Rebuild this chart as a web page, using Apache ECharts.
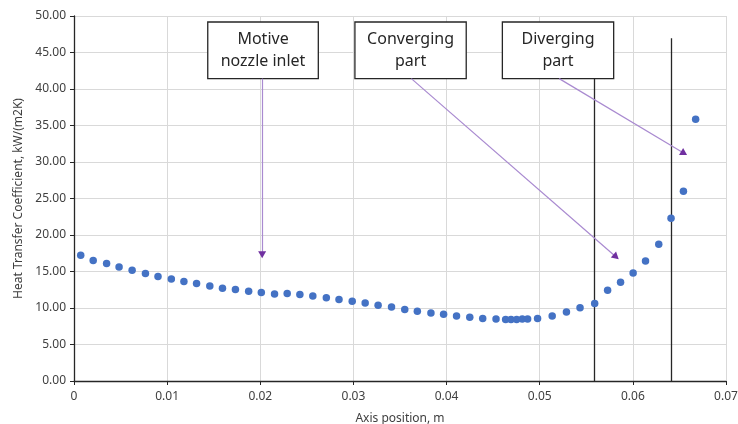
<!DOCTYPE html>
<html>
<head>
<meta charset="utf-8">
<script src="https://cdn.jsdelivr.net/npm/echarts@6/dist/echarts.min.js"></script>
<style>html,body{margin:0;padding:0;background:#fff;}#c{width:738px;height:424px;}</style>
</head>
<body>
<div id="c"></div>
<script>
// Axis position (m)
const xs = [0.00072,0.00206,0.0035,0.00484,0.00624,0.00767,0.00902,0.01045,0.0118,0.01316,
  0.01458,0.01594,0.01733,0.01875,0.02011,0.02153,0.02289,0.02425,0.02564,0.02709,
  0.02845,0.02987,0.03126,0.03265,0.03409,0.03551,0.03686,0.03832,0.03968,0.04107,
  0.04249,0.04388,0.04531,0.04634,0.04692,0.04752,0.04813,0.0487,0.04977,0.05134,
  0.05287,0.05433,0.0559,0.05729,0.05868,0.06003,0.06136,0.06278,0.0641,0.06543,0.06674];
// Heat transfer coefficient kW/(m2K)
const hs = [17.22,16.5,16.08,15.62,15.16,14.71,14.3,13.97,13.62,13.34,
  13.01,12.7,12.52,12.29,12.11,11.92,11.97,11.84,11.64,11.42,
  11.15,10.92,10.68,10.37,10.14,9.78,9.55,9.32,9.14,8.9,
  8.73,8.55,8.49,8.41,8.41,8.41,8.49,8.49,8.55,8.9,
  9.45,10.05,10.6,12.42,13.52,14.79,16.44,18.73,22.29,25.99,35.85];

const boxLabels = ['Motive\nnozzle inlet', 'Converging\npart', 'Diverging\npart'];
const boxX = [[0.01436,0.02623],[0.03016,0.04211],[0.04599,0.05794]];
const boxY = [41.42, 49.18];
const arrowFrom = [[0.0202,41.42],[0.03622,41.42],[0.05209,41.42]];
const arrowTo = [[0.0202,17.3],[0.0582,17.0],[0.0655,31.2]];
const sectionX = [0.0559, 0.06417];
const sectionTop = [41.42, 46.95];

const FONT = 'Noto Sans';
const chart = echarts.init(document.getElementById('c'));
const pts = xs.map((x,i)=>[x,hs[i]]);

// short dark segment just before each arrow tip, to carry a dark arrowhead
const PXX = 9330, PXY = 7.3;
const headStart = arrowFrom.map((f,i)=>{
  const t = arrowTo[i];
  const dx = (t[0]-f[0])*PXX, dy = (t[1]-f[1])*PXY;
  const L = Math.hypot(dx,dy);
  return [t[0]-dx/L*3/PXX, t[1]-dy/L*3/PXY];
});

chart.setOption({
  animation:false,
  grid:{left:74,right:12,top:16,bottom:43,outerBoundsMode:'none',containLabel:false},
  xAxis:{
    type:'value',min:0,max:0.07,interval:0.01,
    name:'Axis position, m',nameLocation:'middle',nameGap:32,
    nameTextStyle:{fontFamily:FONT,fontSize:12,color:'#404040'},
    axisLine:{show:true,onZero:false,lineStyle:{color:'#262626',width:1.3}},
    axisTick:{show:true,length:4,lineStyle:{color:'#262626'}},
    axisLabel:{fontFamily:FONT,fontSize:12,color:'#404040',margin:10,
      formatter:v=>v===0?'0':v.toFixed(2)},
    splitLine:{show:true,lineStyle:{color:'#d9d9d9',width:1}}
  },
  yAxis:{
    type:'value',min:0,max:50,interval:5,
    name:'Heat Transfer Coefficient, kW/(m2K)',nameLocation:'middle',nameGap:46,
    nameTextStyle:{fontFamily:FONT,fontSize:12,color:'#404040'},
    axisLine:{show:true,lineStyle:{color:'#262626',width:1.3}},
    axisTick:{show:true,length:4,lineStyle:{color:'#262626'}},
    axisLabel:{fontFamily:FONT,fontSize:12,color:'#404040',margin:8,
      formatter:v=>v.toFixed(2)},
    splitLine:{show:true,lineStyle:{color:'#d9d9d9',width:1}}
  },
  series:[
    {
      type:'scatter',data:pts,symbolSize:7.5,
      itemStyle:{color:'#4472C4',opacity:1},z:5
    },
    {
      type:'line',data:[],silent:true,z:3,
      markLine:{
        silent:true,animation:false,label:{show:false},
        symbol:['none','none'],
        data:sectionX.map((x,i)=>[
          {coord:[x,0],lineStyle:{color:'#262626',width:1.3,type:'solid'}},
          {coord:[x,sectionTop[i]]}
        ]).concat(arrowFrom.map((f,i)=>[
          {coord:f,lineStyle:{color:'#a98ad0',width:1.2,type:'solid'}},
          {coord:headStart[i]}
        ])).concat(headStart.map((h,i)=>[
          {coord:h,symbol:'none',lineStyle:{color:'#7030a0',width:1.2,type:'solid'}},
          {coord:arrowTo[i],symbol:'triangle',symbolSize:[8,7]}
        ]))
      },
      markArea:{
        silent:true,
        itemStyle:{color:'#ffffff',borderColor:'#262626',borderWidth:1.3},
        label:{show:true,position:'inside',fontFamily:FONT,fontSize:16,color:'#262626',lineHeight:22},
        data:boxX.map((bx,i)=>[
          {name:boxLabels[i],coord:[bx[0],boxY[0]]},
          {coord:[bx[1],boxY[1]]}
        ])
      }
    }
  ]
});
</script>
</body>
</html>
